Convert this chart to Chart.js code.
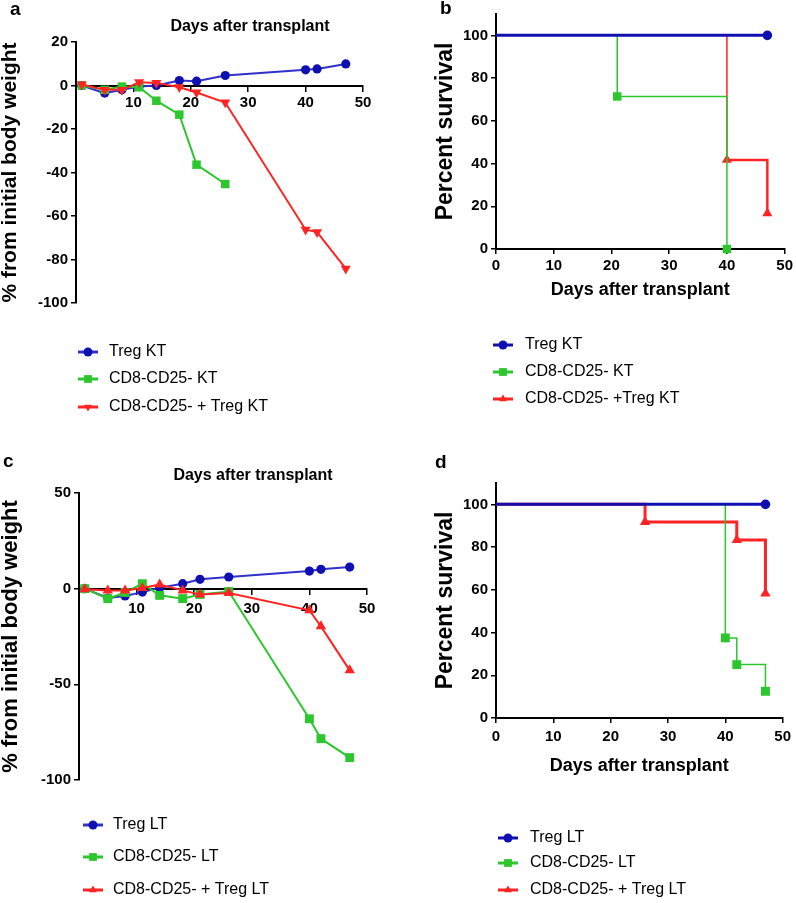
<!DOCTYPE html>
<html>
<head>
<meta charset="utf-8">
<script src="https://cdn.jsdelivr.net/npm/chart.js@4.4.0/dist/chart.umd.min.js"></script>
<style>
  body { margin: 0; background: #fff; }
  #fig { position: relative; width: 796px; height: 903px; overflow: hidden; font-family: 'Liberation Sans', Arial, sans-serif; }
  canvas { position: absolute; }
  .tag { position: absolute; font-weight: bold; font-size: 19px; line-height: 1; z-index: 2; }
  .top-title { position: absolute; font-weight: bold; font-size: 16px; line-height: 1; white-space: nowrap; transform: translate(-50%, -50%); z-index: 2; }
</style>
</head>
<body>
<div id="fig">
  <canvas id="chart-a" width="400" height="440" style="left:0;top:0"></canvas>
  <canvas id="chart-b" width="396" height="440" style="left:400px;top:0"></canvas>
  <canvas id="chart-c" width="400" height="463" style="left:0;top:440px"></canvas>
  <canvas id="chart-d" width="396" height="463" style="left:400px;top:440px"></canvas>
  <div class="tag" style="left:10px;top:-1px">a</div>
  <div class="tag" style="left:440px;top:-2px">b</div>
  <div class="tag" style="left:3px;top:451px">c</div>
  <div class="tag" style="left:435px;top:452px">d</div>
  <div class="top-title" style="left:250px;top:26px">Days after transplant</div>
  <div class="top-title" style="left:253px;top:475px">Days after transplant</div>
</div>
<script>
// ---- data ----
const dayTicks = [0, 10, 20, 30, 40, 50];
const weightTicksKT = [20, 0, -20, -40, -60, -80, -100];
const weightTicksLT = [50, 0, -50, -100];
const survivalTicks = [0, 20, 40, 60, 80, 100];

// a: kidney transplant, % weight change
const daysKT = [1, 5, 8, 11, 14, 18, 21, 26, 40, 42, 47];
const weightTregKT = [0, -3.5, -2, -0.5, 0, 2.3, 2, 4.6, 7.2, 7.6, 9.9];
const daysCD8KT = [1, 5, 8, 11, 14, 18, 21, 26];
const weightCD8KT = [0, -2, -0.5, -0.8, -7, -13.4, -36.4, -45.3];
const weightMixKT = [0.5, -2, -2, 1.5, 1.2, -0.8, -3.2, -7.8, -66.3, -67.4, -84.2];

// c: liver transplant, % weight change
const daysLT = [1, 5, 8, 11, 14, 18, 21, 26, 40, 42, 47];
const weightTregLT = [0, -4.9, -3.8, -1.8, 0.5, 2.6, 4.9, 6.1, 9.2, 10.1, 11.3];
const weightCD8LT = [0, -5.2, -2, 2.6, -3.5, -5.2, -3, -1.5, -68, -78.4, -88.3];
const weightMixLT = [-0.3, -0.9, -0.9, 0.3, 2.2, -0.9, -3.1, -2.3, -11.3, -19.7, -42.7];

// b: survival KT
const survDaysTregKT = [0, 47];
const survTregKT = [100, 100];
const survDaysCD8KT = [0, 21, 40];
const survCD8KT = [100, 71.4, 0];
const survDaysMixKT = [0, 40, 47];
const survMixKT = [100, 41.7, 16.7];

// d: survival LT
const survDaysTregLT = [0, 47];
const survTregLT = [100, 100];
const survDaysCD8LT = [0, 40, 42, 47];
const survCD8LT = [100, 37.5, 25, 12.5];
const survDaysMixLT = [0, 26, 42, 47];
const survMixLT = [100, 91.7, 83.3, 58.3];

const BLUE = '#1010b0', BLUE_LINE = '#3030cc', GREEN = '#2ec62e', RED = '#ff2424';
const FONT = "'Liberation Sans', Arial, sans-serif";

Chart.defaults.font.family = FONT;
Chart.defaults.color = '#000';

const pts = (xs, ys) => ys.map((y, i) => ({ x: xs[i], y }));
const fixedTicks = vals => s => { s.ticks = vals.map(v => ({ value: v })); };

function drawMarker(ctx, style, rot, r, x, y, color) {
  ctx.fillStyle = color;
  ctx.beginPath();
  if (style === 'circle') {
    ctx.arc(x, y, r, 0, Math.PI * 2);
  } else if (style === 'rect') {
    const h = r * Math.SQRT1_2;
    ctx.rect(x - h, y - h, 2 * h, 2 * h);
  } else {
    let a = rot * Math.PI / 180;
    ctx.moveTo(x + Math.sin(a) * r, y - Math.cos(a) * r);
    a += Math.PI * 2 / 3;
    ctx.lineTo(x + Math.sin(a) * r, y - Math.cos(a) * r);
    a += Math.PI * 2 / 3;
    ctx.lineTo(x + Math.sin(a) * r, y - Math.cos(a) * r);
    ctx.closePath();
  }
  ctx.fill();
}

// legend drawn far below the plot, line + marker + label
const seriesLegend = {
  id: 'seriesLegend',
  afterDraw(chart, args, o) {
    const ctx = chart.ctx;
    ctx.save();
    chart.data.datasets.forEach((ds, i) => {
      const y = o.ys[i];
      ctx.strokeStyle = ds.borderColor;
      ctx.lineWidth = 3;
      ctx.beginPath();
      ctx.moveTo(o.x - 10, y);
      ctx.lineTo(o.x + 10, y);
      ctx.stroke();
      drawMarker(ctx, ds.pointStyle, ds.pointRotation || 0, ds.pointStyle === 'rect' ? 5.5 : 4.5, o.x, y, ds.pointBackgroundColor);
      ctx.fillStyle = '#000';
      ctx.font = '16px ' + FONT;
      ctx.textAlign = 'left';
      ctx.textBaseline = 'middle';
      ctx.fillText(ds.label, o.textX, y);
    });
    ctx.restore();
  }
};

const tickFont = { family: FONT, size: 15, weight: 'bold' };
const axisGrid = { drawOnChartArea: false, drawTicks: true, tickLength: 5, color: '#000', lineWidth: 1.5 };
const axisBorder = { color: '#000', width: 2 };

function weightChart(id, cfg) {
  return new Chart(document.getElementById(id), {
    type: 'line',
    data: {
      datasets: cfg.series.map(s => ({
        label: s.label, data: pts(s.days, s.values), order: s.order,
        borderColor: s.line, pointBackgroundColor: s.fill, pointBorderColor: s.fill, backgroundColor: s.fill,
        borderWidth: 2, pointStyle: s.style, pointRotation: s.rot || 0, pointRadius: s.r, pointBorderWidth: 0,
        tension: 0, clip: false
      }))
    },
    options: {
      responsive: false, animation: false, events: [],
      layout: { padding: cfg.pad },
      plugins: { legend: { display: false }, tooltip: { enabled: false }, seriesLegend: cfg.legend },
      scales: {
        x: {
          type: 'linear', position: { y: 0 }, min: 0, max: 50,
          afterBuildTicks: fixedTicks(dayTicks),
          ticks: { font: tickFont, padding: cfg.xPad, maxRotation: 0, callback: v => v === 0 ? '' : v },
          grid: axisGrid, border: axisBorder
        },
        y: {
          type: 'linear', min: cfg.yMin, max: cfg.yMax,
          afterBuildTicks: fixedTicks(cfg.yTicks),
          afterFit: s => { s.width = cfg.yWidth; },
          ticks: { font: tickFont, padding: 3 },
          grid: axisGrid, border: axisBorder,
          title: { display: true, text: '% from initial body weight', padding: { top: 0, bottom: 0 },
                   font: { family: FONT, size: cfg.titleSize, weight: 'bold', lineHeight: 1 } }
        }
      }
    },
    plugins: [seriesLegend]
  });
}

function survivalChart(id, cfg) {
  return new Chart(document.getElementById(id), {
    type: 'line',
    data: {
      datasets: cfg.series.map(s => ({
        label: s.label, data: pts(s.days, s.values),
        borderColor: s.line, pointBackgroundColor: s.fill, pointBorderColor: s.fill, backgroundColor: s.fill,
        borderWidth: s.width, pointStyle: s.style, pointBorderWidth: 0,
        pointRadius: c => c.dataIndex === 0 ? 0 : s.r,
        segment: s.width2 ? { borderWidth: c => c.p0DataIndex >= s.from2 ? s.width2 : s.width } : undefined,
        stepped: 'before', tension: 0, clip: false
      }))
    },
    options: {
      responsive: false, animation: false, events: [],
      layout: { padding: cfg.pad },
      plugins: { legend: { display: false }, tooltip: { enabled: false }, seriesLegend: cfg.legend },
      scales: {
        x: {
          type: 'linear', min: 0, max: 50,
          afterBuildTicks: fixedTicks(dayTicks),
          afterFit: s => { s.height = 60; },
          ticks: { font: tickFont, padding: cfg.xPad, maxRotation: 0 },
          grid: axisGrid, border: axisBorder,
          title: { display: true, text: 'Days after transplant', padding: { top: 0, bottom: cfg.xTitlePad },
                   font: { family: FONT, size: 18, weight: 'bold', lineHeight: 1 } }
        },
        y: {
          type: 'linear', min: 0, max: 110,
          afterBuildTicks: fixedTicks(survivalTicks),
          afterFit: s => { s.width = 96; },
          ticks: { font: tickFont, padding: 3 },
          grid: axisGrid, border: axisBorder,
          title: { display: true, text: 'Percent survival', padding: { top: 34, bottom: 0 },
                   font: { family: FONT, size: 23, weight: 'bold', lineHeight: 1 } }
        }
      }
    },
    plugins: [seriesLegend]
  });
}

weightChart('chart-a', {
  pad: { left: 0, top: 42, right: 37, bottom: 137 }, yWidth: 76, xPad: 3, titleSize: 21,
  yMin: -100, yMax: 20, yTicks: weightTicksKT,
  legend: { x: 88, textX: 109, ys: [352, 379, 407] },
  series: [
    { label: 'Treg KT', days: daysKT, values: weightTregKT, line: BLUE_LINE, fill: BLUE, style: 'circle', r: 4.6, order: 2 },
    { label: 'CD8-CD25- KT', days: daysCD8KT, values: weightCD8KT, line: GREEN, fill: GREEN, style: 'rect', r: 6, order: 1 },
    { label: 'CD8-CD25- + Treg KT', days: daysKT, values: weightMixKT, line: RED, fill: RED, style: 'triangle', rot: 180, r: 5.8, order: 0 }
  ]
});

survivalChart('chart-b', {
  pad: { left: 0, top: 14, right: 8, bottom: 131 }, xPad: 3, xTitlePad: 10,
  legend: { x: 103, textX: 125, ys: [345, 372, 399] },
  series: [
    { label: 'Treg KT', days: survDaysTregKT, values: survTregKT, line: BLUE, fill: BLUE, style: 'circle', r: 4.8, width: 3 },
    { label: 'CD8-CD25- KT', days: survDaysCD8KT, values: survCD8KT, line: GREEN, fill: GREEN, style: 'rect', r: 6, width: 1.5 },
    { label: 'CD8-CD25- +Treg KT', days: survDaysMixKT, values: survMixKT, line: RED, fill: RED, style: 'triangle', r: 5.8, width: 1.5, width2: 2.5, from2: 1 }
  ]
});

weightChart('chart-c', {
  pad: { left: 0, top: 53, right: 33, bottom: 123 }, yWidth: 79, xPad: 6, titleSize: 22,
  yMin: -100, yMax: 50, yTicks: weightTicksLT,
  legend: { x: 93, textX: 113, ys: [385, 417, 450] },
  series: [
    { label: 'Treg LT', days: daysLT, values: weightTregLT, line: BLUE_LINE, fill: BLUE, style: 'circle', r: 4.6, order: 2 },
    { label: 'CD8-CD25- LT', days: daysLT, values: weightCD8LT, line: GREEN, fill: GREEN, style: 'rect', r: 6.3, order: 1 },
    { label: 'CD8-CD25- + Treg LT', days: daysLT, values: weightMixLT, line: RED, fill: RED, style: 'triangle', r: 6, order: 0 }
  ]
});

survivalChart('chart-d', {
  pad: { left: 0, top: 43, right: 8, bottom: 125 }, xPad: 5, xTitlePad: 3,
  legend: { x: 108, textX: 130, ys: [398, 423, 450] },
  series: [
    { label: 'Treg LT', days: survDaysTregLT, values: survTregLT, line: BLUE, fill: BLUE, style: 'circle', r: 4.8, width: 3 },
    { label: 'CD8-CD25- LT', days: survDaysCD8LT, values: survCD8LT, line: GREEN, fill: GREEN, style: 'rect', r: 6.3, width: 1.5 },
    { label: 'CD8-CD25- + Treg LT', days: survDaysMixLT, values: survMixLT, line: RED, fill: RED, style: 'triangle', r: 6, width: 3 }
  ]
});
</script>
</body>
</html>
